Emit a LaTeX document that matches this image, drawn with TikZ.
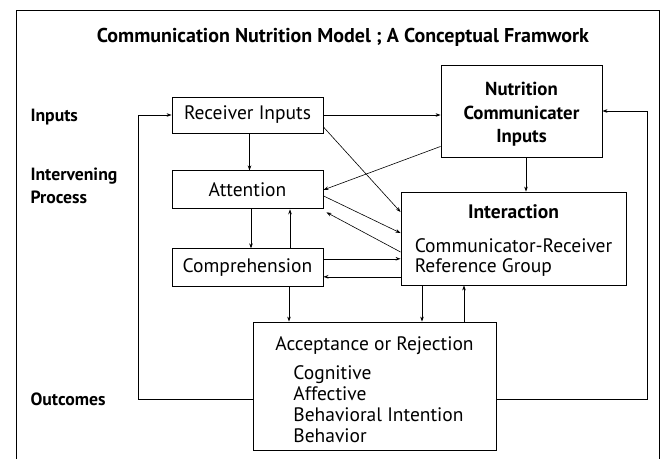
\documentclass[tikz,border=0pt]{standalone}
\usepackage{fontspec}
\setmainfont{PT Sans}
\usetikzlibrary{positioning, calc, arrows.meta}
\tikzstyle{Box} = [
draw,
line width=0.9pt,
inner sep=0pt,
font=\fontsize{19.5}{20}\selectfont]
\tikzstyle{Arrow} = [
line width=0.6pt,
-{Stealth[length=5pt, width=3.6pt]}]
\tikzstyle{Side} = [
anchor=west,
align=left,
font=\bfseries\fontsize{17.7}{23}\selectfont]

\begin{document}
\begin{tikzpicture}[x=1pt, y=-1pt]
    \useasboundingbox (0,0) rectangle (664,459);
    \draw[line width=0.8pt] (16,459) -- (16,10) -- (659,10) -- (659,459);
    \node[font=\bfseries\fontsize{20}{22}\selectfont] (title) at (343,37) {Communication Nutrition Model ; A Conceptual Framwork};
    \node[Side] (inp) at (27,117) {Inputs};
    \node[Side] (proc) at (27,186) {Intervening\\Process};
    \node[Side] (outc) at (27,399) {Outcomes};
    \node[Box, minimum width=151pt, minimum height=36pt] (recv) at (247.5,115) {Receiver Inputs};
    \node[Box, minimum width=151pt, minimum height=38pt, below=37pt of recv] (attn) {Attention};
    \node[Box, minimum width=151pt, minimum height=38pt, below=39pt of attn] (comp) {Comprehension};
    \node[Box, minimum width=161pt, minimum height=92pt, align=center,
          font=\bfseries\fontsize{18.8}{23.5}\selectfont] (nutr) at (521.5,111) {\rule{0pt}{20pt}Nutrition\\Communicater\\Inputs};
    \node[Box, minimum width=225pt, minimum height=93pt] (inter) at (513.5,238.5)
        {\begin{tabular}{@{}l@{}}\multicolumn{1}{@{}c@{}}{\rule{0pt}{20pt}\bfseries\fontsize{19.5}{20}\selectfont Interaction}\\[14pt]
         Communicator-Receiver\\ Reference Group\end{tabular}};
    \node[Box, minimum width=243pt, minimum height=128pt, font=\fontsize{19.5}{21}\selectfont] (accept) at (374.5,386)
        {\begin{tabular}{@{}l@{}}\rule{0pt}{27pt}Acceptance or Rejection\\[8pt]
         \hspace{18pt}Cognitive\\ \hspace{18pt}Affective\\
         \hspace{18pt}Behavioral Intention\\ \hspace{18pt}Behavior\end{tabular}};
    \coordinate (lft) at (138,0);
    \coordinate (rgt) at (647,0);
    % inputs
    \draw[Arrow] (recv.east) -- (recv.east -| nutr.west);
    \draw[Arrow] ([yshift=-12pt]recv.east) -- ([yshift=26.5pt]inter.west);
    \draw[Arrow] ([xshift=2pt]recv.south) -- ([xshift=2pt]attn.north);
    \draw[Arrow] ([yshift=11pt]nutr.south west) -- (attn.east);
    \draw[Arrow] ([xshift=4.5pt]nutr.south) -- ([xshift=4.5pt]nutr.south |- inter.north);
    % intervening process
    \draw[Arrow] ([yshift=-6pt]attn.east) -- ([yshift=5.5pt]inter.west);
    \draw[Arrow] ([yshift=-13.5pt]inter.west) -- ([shift={(3pt,-3pt)}]attn.south east);
    \draw[Arrow] ([xshift=3.5pt]attn.south) -- ([xshift=3.5pt]comp.north);
    \draw[Arrow] ([xshift=42.5pt]comp.north) -- ([xshift=42.5pt]attn.south);
    \draw[Arrow] ([yshift=9pt]comp.east) -- ([yshift=9pt]comp.east -| inter.west);
    \draw[Arrow] ([yshift=-9pt]comp.east -| inter.west) -- ([yshift=-9pt]comp.east);
    % outcomes
    \draw[Arrow] ([xshift=41.5pt]comp.south) -- ([xshift=41.5pt]comp.south |- accept.north);
    \draw[Arrow] ([xshift=-91.5pt]inter.south) -- ([xshift=-91.5pt]inter.south |- accept.north);
    \draw[Arrow] ([xshift=89.5pt]accept.north) -- ([xshift=89.5pt]accept.north |- inter.south);
    \draw[Arrow] ([yshift=-13pt]accept.west) -| (lft |- recv.west) -- (recv.west);
    \draw[Arrow] ([yshift=-13pt]accept.east) -| (rgt |- nutr.east) -- (nutr.east);
\end{tikzpicture}
\end{document}
